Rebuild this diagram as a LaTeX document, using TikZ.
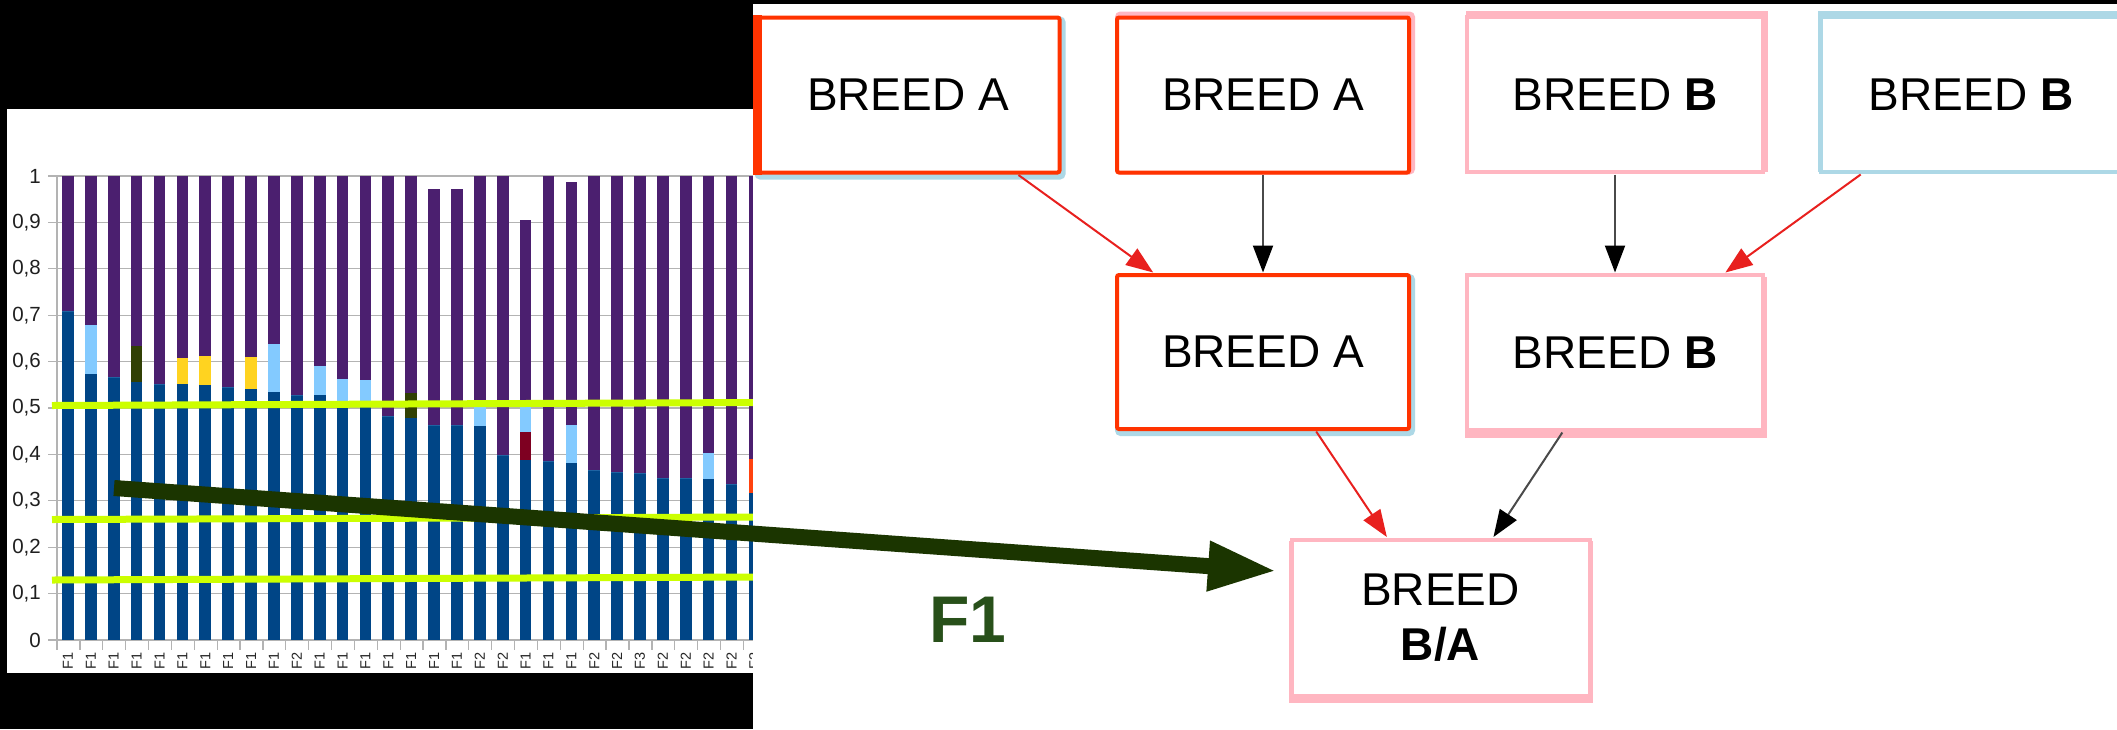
\documentclass[tikz,border=0pt]{standalone}
\usepackage{fontspec}
\setmainfont{Liberation Sans}
\usetikzlibrary{arrows.meta}

% palette
\definecolor{redB}{HTML}{FF3300}
\definecolor{pinkB}{HTML}{FFB6C1}
\definecolor{blueglow}{HTML}{ADD8E6}
\definecolor{arrowred}{HTML}{E8201E}
\definecolor{stemgray}{HTML}{4A4A4A}
\definecolor{trend}{HTML}{1B3500}
\definecolor{flabel}{HTML}{28501A}
\definecolor{lime}{HTML}{CCFF00}
\definecolor{gridgray}{HTML}{B3B3B3}
\definecolor{sBlue}{HTML}{004586}
\definecolor{sPurple}{HTML}{4B1F6F}
\definecolor{sLight}{HTML}{83CAFF}
\definecolor{sYellow}{HTML}{FFD320}
\definecolor{sOlive}{HTML}{314004}
\definecolor{sDred}{HTML}{7E0021}
\definecolor{sOrange}{HTML}{FF420E}

\tikzset{
  boxbase/.style={rectangle, fill=white, inner sep=0pt, outer sep=2.5pt,
    font=\fontsize{46pt}{55pt}\selectfont, align=center, text=black},
  redbox/.style 2 args={boxbase, draw=redB, line width=4pt, rounded corners=2pt,
    preaction={draw=#1, line width=8pt, transform canvas={shift={#2}}}},
  tintbox/.style 2 args={boxbase, draw=#1, line width=4pt,
    preaction={draw=#1, line width=6pt, transform canvas={shift={#2}}}},
  redlink/.style={draw=arrowred, line width=2pt, -{Triangle[length=27pt,width=20pt]}},
  darklink/.style={draw=stemgray, line width=2pt, -{Triangle[length=27pt,width=20pt,color=black]}},
  ylab/.style={font=\fontsize{20.5pt}{24pt}\selectfont, text=black!88, inner sep=0pt, anchor=east},
  xlab/.style={font=\fontsize{14.5pt}{16pt}\selectfont, text=black!85, inner sep=0pt, rotate=90, anchor=east},
  gridline/.style={draw=gridgray, line width=1.3pt},
  limeline/.style={draw=lime, line width=7pt},
}

\begin{document}
\begin{tikzpicture}[x=1pt, y=-1pt]
\useasboundingbox (0,0) rectangle (2117,729);
\fill[black] (0,0) rectangle (2117,729);

% ---------- stacked bar chart ----------
\fill[white] (7,109) rectangle (753,673);

% grid and axes
\foreach \k in {0,...,10}
  \draw[gridline] (48,{640-46.4*\k}) -- (753,{640-46.4*\k});
\draw[gridline] (57,176) -- (57,640);
\foreach \k in {0,...,31}
  \draw[gridline] ({57+22.88*\k},640) -- ({57+22.88*\k},650);

% value labels
\node[ylab] (y0) at (41,640) {0};
\foreach \k in {1,...,9}
  \node[ylab] (y\k) at (41,{640-46.4*\k}) {0,\k};
\node[ylab] (y10) at (41,176) {1};

% bars: index / blue top / segment colour / top / segment colour / top / purple top
\foreach \i/\b/\ca/\ta/\cb/\tb/\p in {
  1/0.710/sLight/0.710/sLight/0.710/1,
  2/0.574/sLight/0.679/sLight/0.679/1,
  3/0.567/sLight/0.567/sLight/0.567/1,
  4/0.556/sOlive/0.634/sOlive/0.634/1,
  5/0.552/sLight/0.552/sLight/0.552/1,
  6/0.552/sYellow/0.607/sYellow/0.607/1,
  7/0.550/sYellow/0.612/sYellow/0.612/1,
  8/0.546/sLight/0.546/sLight/0.546/1,
  9/0.540/sYellow/0.609/sYellow/0.609/1,
  10/0.534/sLight/0.638/sLight/0.638/1,
  11/0.528/sLight/0.528/sLight/0.528/1,
  12/0.528/sLight/0.590/sLight/0.590/1,
  13/0.505/sLight/0.563/sLight/0.563/1,
  14/0.505/sLight/0.560/sLight/0.560/1,
  15/0.483/sLight/0.483/sLight/0.483/1,
  16/0.479/sOlive/0.533/sOlive/0.533/1,
  17/0.464/sLight/0.464/sLight/0.464/0.972,
  18/0.464/sLight/0.464/sLight/0.464/0.972,
  19/0.462/sLight/0.512/sLight/0.512/1,
  20/0.398/sLight/0.398/sLight/0.398/1,
  21/0.389/sDred/0.448/sLight/0.512/0.905,
  22/0.386/sLight/0.386/sLight/0.386/1,
  23/0.382/sLight/0.463/sLight/0.463/0.988,
  24/0.366/sLight/0.366/sLight/0.366/1,
  25/0.362/sLight/0.362/sLight/0.362/1,
  26/0.361/sLight/0.361/sLight/0.361/1,
  27/0.350/sLight/0.350/sLight/0.350/1,
  28/0.350/sLight/0.350/sLight/0.350/1,
  29/0.346/sLight/0.404/sLight/0.404/1,
  30/0.336/sLight/0.336/sLight/0.336/1,
  31/0.316/sOrange/0.390/sOrange/0.390/1}{
  \pgfmathsetmacro{\xl}{68+(\i-1)*22.88-5.85}
  \pgfmathsetmacro{\xr}{68+(\i-1)*22.88+5.85}
  \fill[sBlue]   (\xl,640) rectangle (\xr,{640-464*\b});
  \fill[\ca]     (\xl,{640-464*\b}) rectangle (\xr,{640-464*\ta});
  \fill[\cb]     (\xl,{640-464*\ta}) rectangle (\xr,{640-464*\tb});
  \fill[sPurple] (\xl,{640-464*\tb}) rectangle (\xr,{640-464*\p});
}

% category labels
\foreach \lab [count=\i] in {F1,F1,F1,F1,F1,F1,F1,F1,F1,F1,F2,F1,F1,F1,F1,F1,
    F1,F1,F2,F2,F1,F1,F1,F2,F2,F3,F2,F2,F2,F2,F2}
  \node[xlab] (x\i) at ({68+(\i-1)*22.88},652) {\lab};

% reference levels
\draw[limeline] (52,405.5) -- (760,402.5);
\draw[limeline] (52,519.5) -- (760,517);
\draw[limeline] (52,580) -- (760,577);

% ---------- pedigree ----------
\fill[white] (753,4) rectangle (2117,729);

\node[redbox={blueglow}{(2pt,-3pt)}, minimum width=303pt, minimum height=155pt]
  (b1) at (908,95) {BREED A};
\node[redbox={pinkB}{(2pt,2pt)}, minimum width=292pt, minimum height=155pt]
  (b2) at (1263,95) {BREED A};
\node[tintbox={pinkB}{(1.5pt,3pt)}, minimum width=296pt, minimum height=155pt]
  (b3) at (1615,94.5) {BREED \textbf{B}};
\node[tintbox={blueglow}{(0pt,3pt)}, minimum width=300pt, minimum height=155pt]
  (b4) at (1971,94.5) {BREED \textbf{B}};
\node[redbox={blueglow}{(2pt,-3pt)}, minimum width=292pt, minimum height=154pt]
  (ma) at (1263,352) {BREED A};
\node[tintbox={pinkB}{(1pt,-5pt)}, minimum width=296pt, minimum height=155pt]
  (mb) at (1615,352.5) {BREED \textbf{B}};
\node[tintbox={pinkB}{(0.5pt,-4pt)}, minimum width=298pt, minimum height=156pt]
  (bx) at (1440.5,617.5) {BREED\\\textbf{B/A}};

% heavier left edge of the first parent box
\draw[redB, line width=9pt] ([xshift=3.5pt]b1.north west) -- ([xshift=3.5pt]b1.south west);

\draw[redlink]  (b1) -- (ma);
\draw[darklink] (b2) -- (ma);
\draw[darklink] (b3) -- (mb);
\draw[redlink]  (b4) -- (mb);
\draw[redlink]  (ma) -- (bx);
\draw[darklink] (mb) -- (bx);

% ---------- trend arrow into the cross ----------
\coordinate (trendstart) at (114,488);
\coordinate (trendtip) at (1277,571);
\draw[trend, line width=16pt, -{Triangle[length=69pt,width=46pt]}] (trendstart) -- (trendtip);
\node[text=flabel, font=\fontsize{66pt}{70pt}\selectfont\bfseries, inner sep=0pt]
  (f1) at (968,620) {F1};
\end{tikzpicture}
\end{document}
